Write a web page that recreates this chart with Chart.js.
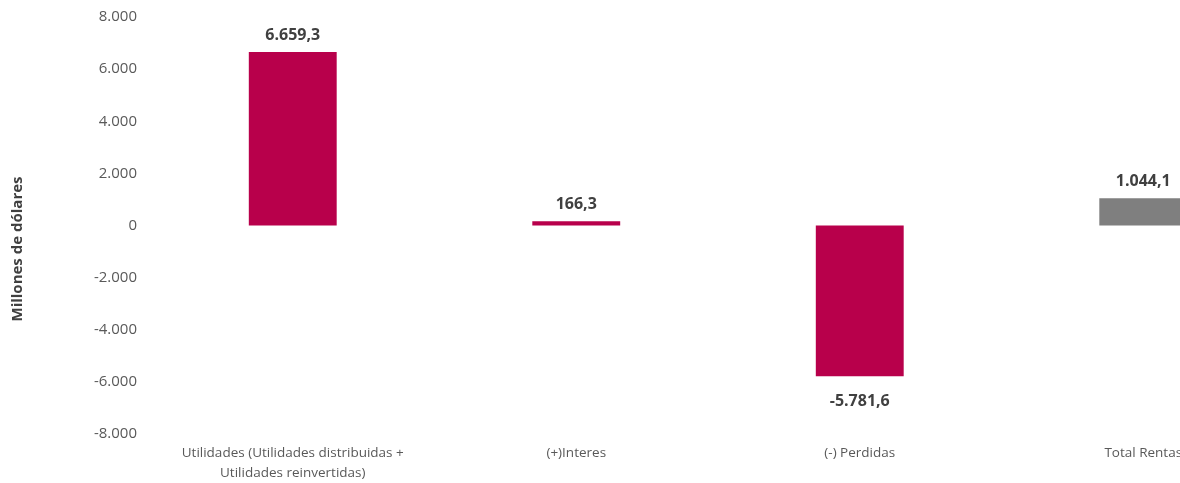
<!DOCTYPE html>
<html lang="es">
<head>
    <meta charset="UTF-8">
    <title>Rentas</title>
    <script src="https://cdn.jsdelivr.net/npm/chart.js"></script>
    <style>
        html, body { margin: 0; padding: 0; background: #fff; overflow: hidden; }
        .wrap { width: 1295px; height: 483px; position: relative; }
    </style>
</head>
<body>
<div class="wrap">
    <canvas id="myChart"></canvas>
</div>

<script>
    // datos del grafico
    const categorias = [
        ['Utilidades (Utilidades distribuidas +', 'Utilidades reinvertidas)'],
        '(+)Interes',
        '(-) Perdidas',
        'Total Rentas'
    ];
    const valores = [6659.3, 166.3, -5781.6, 1044.1];
    const colores = ['#B8004B', '#B8004B', '#B8004B', '#7F7F7F'];
    const tituloEjeY = 'Millones de dólares';

    const FONT = '"Open Sans", "Noto Sans", sans-serif';

    function miles(n) {
        const s = Math.abs(n).toFixed(0).replace(/\B(?=(\d{3})+(?!\d))/g, '.');
        return (n < 0 ? '-' : '') + s;
    }
    function etiqueta(n) {
        const partes = Math.abs(n).toFixed(1).split('.');
        const ent = partes[0].replace(/\B(?=(\d{3})+(?!\d))/g, '.');
        return (n < 0 ? '-' : '') + ent + ',' + partes[1];
    }

    const etiquetasPlugin = {
        id: 'etiquetas',
        afterDatasetsDraw(chart) {
            const ctx = chart.ctx;
            const meta = chart.getDatasetMeta(0);
            ctx.save();
            ctx.font = 'bold 16px ' + FONT;
            ctx.fillStyle = '#404040';
            ctx.textAlign = 'center';
            meta.data.forEach((bar, i) => {
                const v = valores[i];
                if (v >= 0) {
                    ctx.textBaseline = 'bottom';
                    ctx.fillText(etiqueta(v), bar.x, bar.y - 9);
                } else {
                    ctx.textBaseline = 'top';
                    ctx.fillText(etiqueta(v), bar.x, bar.y + 17);
                }
            });
            ctx.restore();
        }
    };

    const tituloPlugin = {
        id: 'tituloY',
        afterDraw(chart) {
            const ctx = chart.ctx;
            ctx.save();
            ctx.translate(18, 249);
            ctx.rotate(-Math.PI / 2);
            ctx.font = 'bold 15px ' + FONT;
            ctx.fillStyle = '#404040';
            ctx.textAlign = 'center';
            ctx.textBaseline = 'middle';
            ctx.fillText(tituloEjeY, 0, 0);
            ctx.restore();
        }
    };

    const ctx = document.getElementById('myChart').getContext('2d');
    new Chart(ctx, {
        type: 'bar',
        data: {
            labels: categorias,
            datasets: [{
                data: valores,
                backgroundColor: colores,
                borderWidth: 0,
                categoryPercentage: 1,
                barPercentage: 0.31
            }]
        },
        options: {
            responsive: true,
            maintainAspectRatio: false,
            animation: false,
            layout: { padding: { top: 17, right: 10, bottom: 4, left: 0 } },
            plugins: {
                legend: { display: false },
                tooltip: { enabled: false }
            },
            scales: {
                x: {
                    grid: { display: false, drawTicks: false },
                    border: { display: false },
                    ticks: {
                        color: '#595959',
                        font: { family: FONT, size: 13.5, lineHeight: 1.5 },
                        padding: 9,
                        maxRotation: 0,
                        autoSkip: false
                    },
                    afterFit(scale) { scale.height = 45; }
                },
                y: {
                    min: -8000,
                    max: 8000,
                    grid: { display: false, drawTicks: false },
                    border: { display: false },
                    ticks: {
                        stepSize: 2000,
                        color: '#595959',
                        font: { family: FONT, size: 15 },
                        padding: 14,
                        callback: v => miles(v)
                    },
                    afterFit(scale) {
                        scale.width = 151;
                        scale.paddingTop = 0;
                        scale.paddingBottom = 0;
                    }
                }
            }
        },
        plugins: [etiquetasPlugin, tituloPlugin]
    });
</script>
</body>
</html>
